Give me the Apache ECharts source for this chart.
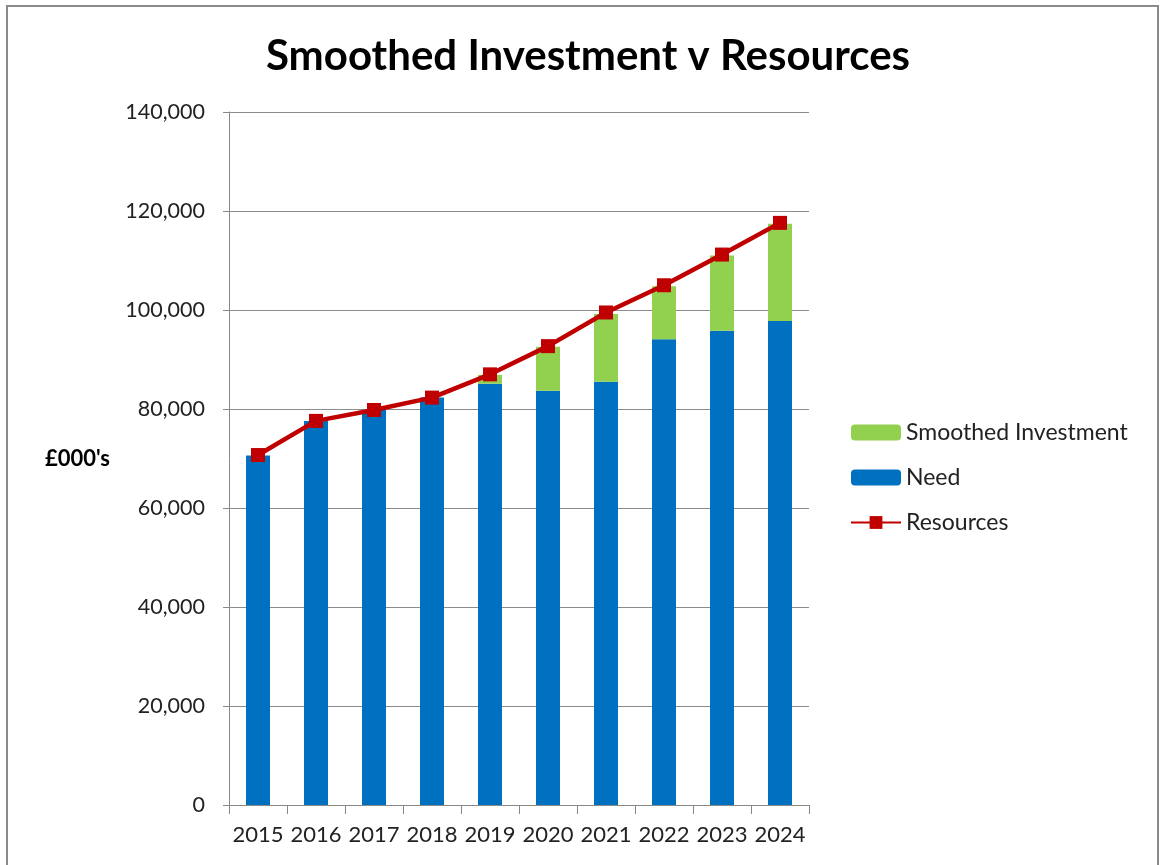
<!DOCTYPE html>
<html>
<head>
<meta charset="utf-8">
<script src="https://cdn.jsdelivr.net/npm/echarts@6/dist/echarts.min.js"></script>
<style>
html,body{margin:0;padding:0;background:#fff;}
#chart{width:1160px;height:865px;}
</style>
</head>
<body>
<div id="chart"></div>
<script>
const years = ['2015','2016','2017','2018','2019','2020','2021','2022','2023','2024'];
const need = [70600, 77600, 79800, 82300, 85100, 83700, 85500, 94100, 95800, 97800];
const smoothed = [0, 0, 0, 0, 1800, 8900, 13700, 10700, 15200, 19600];
const resources = [70700, 77600, 79800, 82300, 87000, 92700, 99500, 105000, 111200, 117600];

const FONT = 'Lato, "Open Sans", sans-serif';
const chart = echarts.init(document.getElementById('chart'));
chart.setOption({
  animation: false,
  backgroundColor: '#fff',
  textStyle: {fontFamily: FONT},
  title: {
    text: 'Smoothed Investment v Resources',
    left: 583,
    textAlign: 'center',
    top: 30,
    textStyle: {fontSize: 42, fontWeight: 'bold', color: '#000', fontFamily: FONT}
  },
  graphic: [{
    type: 'rect', silent: true,
    shape: {x: 7, y: 6, width: 1151, height: 900},
    style: {fill: 'none', stroke: '#8a8a8a', lineWidth: 2}
  }],
  legend: {
    orient: 'vertical',
    left: 845,
    top: 416,
    itemWidth: 50,
    itemHeight: 16,
    itemGap: 22,
    data: ['Smoothed Investment', 'Need', 'Resources'],
    textStyle: {fontSize: 23, color: '#222', fontFamily: FONT}
  },
  grid: {left: 229, right: 351, top: 112, bottom: 60},
  xAxis: {
    type: 'category',
    data: years,
    axisLine: {lineStyle: {color: '#888', width: 1}},
    axisTick: {show: true, length: 9, lineStyle: {color: '#888'}},
    axisLabel: {interval: 0, fontSize: 22, color: '#222', margin: 19, fontFamily: FONT}
  },
  yAxis: {
    type: 'value',
    min: 0, max: 140000, interval: 20000,
    name: "£000's",
    nameLocation: 'middle',
    nameRotate: 0,
    nameGap: 119,
    nameTextStyle: {fontSize: 22, fontWeight: 'bold', color: '#000', fontFamily: FONT},
    axisLine: {show: true, lineStyle: {color: '#888', width: 1}},
    axisTick: {show: true, length: 6, lineStyle: {color: '#888'}},
    splitLine: {lineStyle: {color: '#8c8c8c', width: 1}},
    axisLabel: {
      fontSize: 21.5, color: '#222', margin: 24, fontFamily: FONT,
      formatter: v => v.toLocaleString('en-GB')
    }
  },
  series: [
    {
      name: 'Need', type: 'bar', stack: 'total', data: need,
      barWidth: 24,
      itemStyle: {color: '#0070C0'}
    },
    {
      name: 'Smoothed Investment', type: 'bar', stack: 'total', data: smoothed,
      barWidth: 24,
      itemStyle: {color: '#92D050'}
    },
    {
      name: 'Resources', type: 'line', data: resources,
      symbol: 'rect', symbolSize: 14,
      lineStyle: {color: '#C00000', width: 4.5},
      itemStyle: {color: '#C00000'},
      z: 5
    }
  ]
});
</script>
</body>
</html>
